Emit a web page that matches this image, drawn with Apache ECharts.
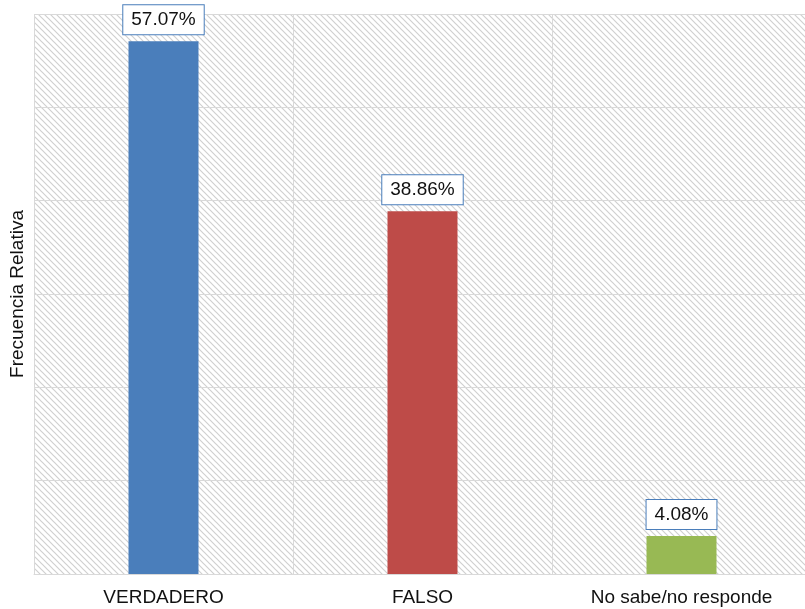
<!DOCTYPE html>
<html>
<head>
<meta charset="utf-8">
<script src="https://cdn.jsdelivr.net/npm/echarts@6/dist/echarts.min.js"></script>
<style>
html,body{margin:0;padding:0;background:#fff;}
#main{width:805px;height:609px;}
</style>
</head>
<body>
<div id="main"></div>
<script>
var categories = ['VERDADERO', 'FALSO', 'No sabe/no responde'];
var values = [57.07, 38.86, 4.08];
var barColors = ['#4a7ebb', '#be4b48', '#98b954'];

// patron de rayas diagonales para el fondo
var hatch = document.createElement('canvas');
hatch.width = 6;
hatch.height = 6;
var ctx = hatch.getContext('2d');
ctx.fillStyle = '#ffffff';
ctx.fillRect(0, 0, 6, 6);
ctx.strokeStyle = '#d0d0d0';
ctx.lineWidth = 1.2;
ctx.beginPath();
ctx.moveTo(0, 0); ctx.lineTo(6, 6);
ctx.moveTo(-3, 3); ctx.lineTo(3, 9);
ctx.moveTo(3, -3); ctx.lineTo(9, 3);
ctx.stroke();

var myChart = echarts.init(document.getElementById('main'));
var option = {
    animation: false,
    grid: {
        left: 34,
        right: -6,
        top: 14,
        bottom: 35,
        outerBoundsMode: 'none',
        containLabel: false,
        show: true,
        borderWidth: 0,
        backgroundColor: {image: hatch, repeat: 'repeat'}
    },
    xAxis: {
        type: 'category',
        data: categories,
        axisLine: {lineStyle: {color: '#d9d9d9'}},
        axisTick: {show: false},
        splitLine: {show: true, lineStyle: {color: '#d9d9d9'}},
        axisLabel: {
            color: '#111',
            fontSize: 19,
            fontFamily: 'Liberation Sans',
            margin: 14
        }
    },
    yAxis: {
        type: 'value',
        min: 0,
        max: 60,
        interval: 10,
        name: 'Frecuencia Relativa',
        nameLocation: 'middle',
        nameGap: 7,
        nameTextStyle: {color: '#111', fontSize: 19, fontFamily: 'Liberation Sans'},
        axisLine: {show: false},
        axisTick: {show: false},
        axisLabel: {show: false},
        splitLine: {lineStyle: {color: '#d9d9d9'}}
    },
    series: [{
        type: 'bar',
        barWidth: 70,
        data: values.map(function (v, i) {
            return {value: v, itemStyle: {color: barColors[i]}};
        }),
        label: {
            show: true,
            position: 'top',
            distance: 7,
            formatter: function (p) { return p.value.toFixed(2) + '%'; },
            color: '#111',
            fontSize: 19,
            fontFamily: 'Liberation Sans',
            backgroundColor: '#fff',
            borderColor: '#4a7ebb',
            borderWidth: 1,
            padding: [5, 8, 5, 8]
        }
    }]
};
myChart.setOption(option);
</script>
</body>
</html>
